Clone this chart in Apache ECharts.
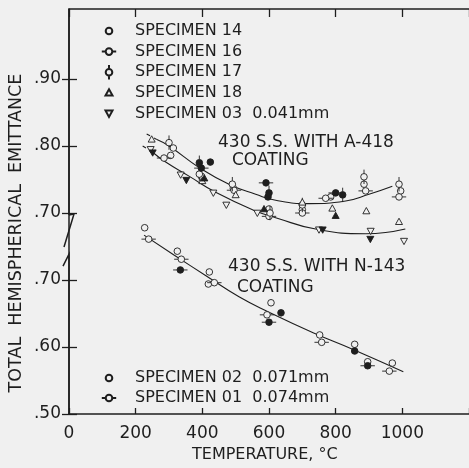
<!DOCTYPE html>
<html><head><meta charset="utf-8">
<script src="https://cdn.jsdelivr.net/npm/echarts@6/dist/echarts.min.js"></script>
<style>html,body{margin:0;padding:0;background:#f0f0f0}#c{width:469px;height:468px}</style>
</head><body><div id="c"></div>
<script>
// ---------- data (temperature °C, total hemispherical emittance) ----------
const xTickValues = [0, 200, 400, 600, 800, 1000];
const yTickValues = [0.5, 0.6, 0.7, 0.8, 0.9, 1.0];        // positions on the (shifted) axis
const yTickLabels = ['.50', '.60', '.70', '.70', '.80', '.90']; // lower part .50-.70, upper part .70-.90
const upperShift = 0.10; // upper panel is drawn 0.10 higher than its true value

// 430 S.S. with A-418 coating (upper panel)
const spec14 = [[313,0.797],[305,0.786],[397,0.755],[493,0.737],[600,0.706],[700,0.705],[785,0.724],[885,0.743],[995,0.733]];
const spec16 = [[285,0.782],[495,0.734],[600,0.695],[700,0.700],[770,0.722],[890,0.733],[990,0.724]];
const spec17 = [[300,0.805],[391,0.758],[490,0.743],[603,0.700],[700,0.712],[885,0.754],[990,0.743]];
const spec18 = [[248,0.810],[400,0.748],[500,0.727],[700,0.716],[790,0.707],[892,0.703],[990,0.687]];
const spec03 = [[245,0.795],[335,0.757],[433,0.730],[472,0.712],[565,0.700],[750,0.675],[905,0.673],[1005,0.658]];
const filled14 = [[424,0.776],[597,0.724]];
const filled16 = [[397,0.767],[591,0.745],[800,0.730]];
const filled17 = [[391,0.775],[600,0.730],[821,0.727]];
const filled18 = [[406,0.752],[585,0.706],[800,0.696]];
const filled03 = [[251,0.790],[352,0.749],[761,0.675],[904,0.661]];
const curveA1Dash = [[233,0.818],[262,0.810]];
const curveA1 = [[262,0.810],[300,0.800],[390,0.768],[480,0.743],[560,0.728],[620,0.719],[720,0.714],[830,0.718],[900,0.728],[970,0.740]];
const curveA2Dash = [[221,0.800],[250,0.791]];
const curveA2 = [[250,0.791],[290,0.776],[360,0.755],[440,0.731],[560,0.703],[620,0.693],[740,0.676],[890,0.669],[1009,0.676]];

// 430 S.S. with N-143 coating (lower panel)
const spec02 = [[227,0.778],[325,0.743],[421,0.712],[418,0.694],[606,0.666],[752,0.618],[857,0.604],[896,0.578],[970,0.576]];
const spec01 = [[239,0.761],[337,0.731],[436,0.696],[594,0.648],[758,0.607],[961,0.564]];
const filled02 = [[636,0.651],[857,0.594]];
const filled01 = [[334,0.715],[600,0.637],[896,0.572]];
const curveN = [[225,0.767],[316,0.737],[412,0.706],[510,0.675],[600,0.652],[734,0.621],[854,0.596],[1003,0.563]];

// ---------- symbols (all inside a 16x16 box) ----------
const C = 'M11.3 8 A3.3 3.3 0 1 1 4.7 8 A3.3 3.3 0 1 1 11.3 8 Z';
const SYM = {
  circle: 'path://M0 0 M16 16 ' + C,
  hbar:   'path://M0 0 M16 16 M0.8 8 L4.7 8 M11.3 8 L15.2 8 ' + C,
  vbar:   'path://M0 0 M16 16 M8 0.8 L8 4.7 M8 11.3 L8 15.2 ' + C,
  up:     'path://M0 0 M16 16 M8 4.5 L11.5 10.8 L4.5 10.8 Z',
  down:   'path://M0 0 M16 16 M4.5 5.2 L11.5 5.2 L8 11.5 Z'
};
const BG = '#f0f0f0', INK = '#1e1e1e';
const FONT = 'DejaVu Sans';

function up(arr) { return arr.map(p => [p[0], p[1] + upperShift]); }
function scat(name, data, sym, filled) {
  return { name, type: 'scatter', data, symbol: SYM[sym], symbolSize: 16, z: 5,
    itemStyle: { color: filled ? INK : BG, borderColor: INK, borderWidth: 0.9, opacity: 1 },
    emphasis: { disabled: true } };
}
function curve(data, dashed) {
  return { type: 'line', data, smooth: true, showSymbol: false, z: 3, silent: true,
    lineStyle: { color: INK, width: 1.1, type: dashed ? [4, 4] : 'solid' } };
}

const chart = echarts.init(document.getElementById('c'), null, { renderer: 'canvas' });
const legendText = { fontFamily: FONT, fontSize: 16, color: INK, padding: [0, 0, 0, 13], lineHeight: 16 };
const option = {
  backgroundColor: BG,
  animation: false,
  grid: { left: 69, right: -2, top: 9, bottom: 54 },
  legend: [
    { data: ['SPECIMEN 14', 'SPECIMEN 16', 'SPECIMEN 17', 'SPECIMEN 18', 'SPECIMEN 03  0.041mm'],
      orient: 'vertical', left: 95, top: 17, itemWidth: 16, itemHeight: 16, itemGap: 2.6,
      textStyle: legendText, selectedMode: false },
    { data: ['SPECIMEN 02  0.071mm', 'SPECIMEN 01  0.074mm'],
      orient: 'vertical', left: 95, top: 364, itemWidth: 16, itemHeight: 16, itemGap: 2,
      textStyle: legendText, selectedMode: false }
  ],
  xAxis: [
    { type: 'value', position: 'bottom', min: 0, max: 1200, interval: 200,
      axisLine: { lineStyle: { color: INK, width: 1.5 } },
      axisTick: { inside: true, length: 6, lineStyle: { color: INK, width: 1.3 } },
      axisLabel: { margin: 11, fontFamily: FONT, fontSize: 17, color: INK,
        customValues: xTickValues, formatter: v => String(v) },
      splitLine: { show: false } },
    { type: 'value', position: 'top', min: 0, max: 1200, interval: 200,
      axisLine: { lineStyle: { color: INK, width: 1.5 } },
      axisTick: { inside: true, length: 8, lineStyle: { color: INK, width: 1.3 } },
      axisLabel: { show: false }, splitLine: { show: false } }
  ],
  yAxis: [
    { type: 'value', position: 'left', min: 0.5, max: 0.5 + 405 / 670, interval: 0.1,
      axisLine: { show: false },
      axisTick: { inside: true, length: 8, customValues: yTickValues, lineStyle: { color: INK, width: 1.3 } },
      axisLabel: { margin: 8, fontFamily: FONT, fontSize: 17, color: INK, customValues: yTickValues,
        formatter: v => yTickLabels[Math.round((v - 0.5) * 10)] || '' },
      splitLine: { show: false } },
    { type: 'value', position: 'right', min: 0.5, max: 0.5 + 405 / 670, interval: 0.1,
      axisLine: { show: true, lineStyle: { color: INK, width: 1.5 } },
      axisTick: { inside: true, length: 7, customValues: yTickValues, lineStyle: { color: INK, width: 1.3 } },
      axisLabel: { show: false }, splitLine: { show: false } }
  ],
  series: [
    curve(up(curveA1Dash), true), curve(up(curveA1)),
    curve(up(curveA2Dash), true), curve(up(curveA2)),
    curve(curveN),
    scat('SPECIMEN 14', up(spec14), 'circle'),
    scat('SPECIMEN 16', up(spec16), 'hbar'),
    scat('SPECIMEN 17', up(spec17), 'vbar'),
    scat('SPECIMEN 18', up(spec18), 'up'),
    scat('SPECIMEN 03  0.041mm', up(spec03), 'down'),
    scat('f14', up(filled14), 'circle', true),
    scat('f16', up(filled16), 'hbar', true),
    scat('f17', up(filled17), 'vbar', true),
    scat('f18', up(filled18), 'up', true),
    scat('f03', up(filled03), 'down', true),
    scat('SPECIMEN 02  0.071mm', spec02, 'circle'),
    scat('SPECIMEN 01  0.074mm', spec01, 'hbar'),
    scat('f02', filled02, 'circle', true),
    scat('f01', filled01, 'hbar', true)
  ]
};
chart.setOption(option);

// broken left axis line, placed from the axis scale
const x0 = chart.convertToPixel({ xAxisIndex: 0 }, 0);
const yTop = chart.convertToPixel({ yAxisIndex: 0 }, 0.5 + 405 / 670);
const yBot = chart.convertToPixel({ yAxisIndex: 0 }, 0.5);
const yUpperLow = chart.convertToPixel({ yAxisIndex: 0 }, 0.8);   // upper .70
const yLowerTop = chart.convertToPixel({ yAxisIndex: 0 }, 0.74);
const ls = { stroke: INK, lineWidth: 1.5 };
chart.setOption({
  graphic: [
    { type: 'line', shape: { x1: x0, y1: yTop, x2: x0, y2: yUpperLow + 2 }, style: ls, z: 10 },
    { type: 'polyline', shape: { points: [[x0, yUpperLow + 2], [x0 + 5, yUpperLow + 1], [x0 - 5, yUpperLow + 34]] }, style: Object.assign({ fill: null }, ls), z: 10 },
    { type: 'polyline', shape: { points: [[x0 - 6, yLowerTop + 13], [x0, yLowerTop + 1], [x0, yBot]] }, style: Object.assign({ fill: null }, ls), z: 10 },
    { type: 'text', left: 218, top: 134, style: { text: '430 S.S. WITH A-418', font: '17px ' + FONT, fill: INK } },
    { type: 'text', left: 232, top: 152, style: { text: 'COATING', font: '17px ' + FONT, fill: INK } },
    { type: 'text', left: 228, top: 258, style: { text: '430 S.S. WITH N-143', font: '17px ' + FONT, fill: INK } },
    { type: 'text', left: 237, top: 279, style: { text: 'COATING', font: '17px ' + FONT, fill: INK } },
    { type: 'text', left: 192, top: 447, style: { text: 'TEMPERATURE, °C', font: '16px ' + FONT, fill: INK } },
    { type: 'text', x: 16, y: 233, rotation: Math.PI / 2,
      style: { text: 'TOTAL  HEMISPHERICAL  EMITTANCE', font: '17.5px ' + FONT, fill: INK, align: 'center', verticalAlign: 'middle' } }
  ]
});
</script></body></html>
